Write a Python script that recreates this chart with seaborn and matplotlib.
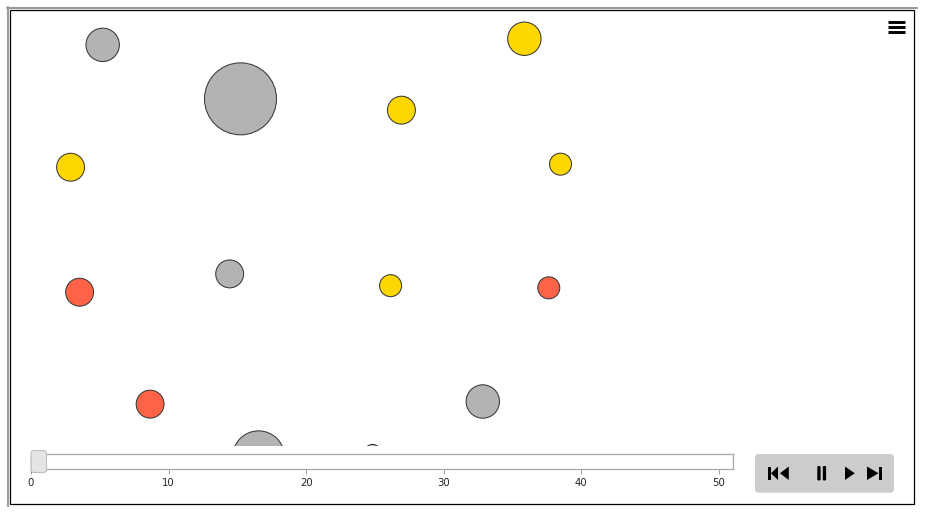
import numpy as np
import pandas as pd
import matplotlib.pyplot as plt
import matplotlib.patches as mpatches
import seaborn as sns

# bubble values (x, y on a 0-100 scale, value ~ bubble area)
bubble_x = [10.25, 25.5, 56.9, 43.3, 6.7, 60.9, 24.3, 7.7, 42.1, 59.6, 15.5, 52.3, 27.5, 40.1]
bubble_y = [92.0, 79.6, 93.4, 77.0, 63.9, 64.6, 39.4, 35.2, 36.7, 36.2, 9.5, 10.1, -2.6, -1.6]
bubble_value = [21.5, 100, 21.5, 15, 15, 9.3, 15, 15, 9.3, 9.3, 15, 21.5, 52, 5]
bubble_group = ["grey", "grey", "gold", "gold", "gold", "gold", "grey",
                "tomato", "gold", "tomato", "tomato", "grey", "grey", "grey"]
group_colors = {"grey": "#b3b3b3", "gold": "#ffd700", "tomato": "#ff6347"}

slider_ticks = [0, 10, 20, 30, 40, 50]
slider_max = 51.04
slider_pos = 0

W, H = 926, 517


def px_box(x0, y0, x1, y1):
    """pixel box (top-left origin) -> figure fraction rect"""
    return [x0 / W, 1 - y1 / H, (x1 - x0) / W, (y1 - y0) / H]


sns.set_style("white")
plt.rcParams['font.family'] = ['DejaVu Sans']

fig = plt.figure(figsize=(W / 100, H / 100), dpi=100)

# main bubble area (bubbles get cut off at its bottom edge)
ax = fig.add_axes(px_box(10, 10, 914, 445.5))
df = pd.DataFrame({"x": bubble_x, "y": bubble_y, "value": bubble_value, "group": bubble_group})
sns.scatterplot(data=df, x="x", y="y", hue="group", palette=group_colors,
                size="value", sizes=(0, 2687), size_norm=(0, 100),
                edgecolor="#383838", linewidth=0.75, alpha=1, legend=False, ax=ax)
ax.set_xlim(0, 100)
ax.set_ylim(0, 100)
ax.set_axis_off()

# time slider
ax_s = fig.add_axes(px_box(31, 454.3, 733.3, 469.3))
ax_s.set_xlim(0, slider_max)
ax_s.set_ylim(0, 1)
ax_s.set_facecolor("white")
for sp in ax_s.spines.values():
    sp.set_color("#a8a8a8")
    sp.set_linewidth(0.9)
ax_s.set_yticks([])
ax_s.set_xticks(slider_ticks)
ax_s.set_xticklabels([str(t) for t in slider_ticks])
ax_s.tick_params(axis="x", bottom=True, length=3.8, width=0.7, color="#a0a0a0",
                 labelsize=7.3, labelcolor="#222222", pad=2.5)

# overlay for frame, handle, play controls and menu icon
ov = fig.add_axes([0, 0, 1, 1], zorder=10)
ov.set_xlim(0, W)
ov.set_ylim(H, 0)
ov.set_axis_off()
ov.patch.set_alpha(0)

# outer frame
ov.plot([8, 8], [7, 506], color="#9a9a9a", lw=1.5)
ov.plot([7, 917], [8, 8], color="#9a9a9a", lw=1.5)
ov.add_patch(mpatches.Rectangle((9.5, 9.5), 904.5, 494.3, fill=False, ec="black", lw=0.9))

# slider handle
hx = 31 + slider_pos * (733.3 - 31) / slider_max
ov.add_patch(mpatches.FancyBboxPatch((hx, 450.5), 15.5, 22, boxstyle="round,pad=0,rounding_size=3",
                                     fc="#e4e4e4", ec="#bdbdbd", lw=0.8))

# play controls box
ov.add_patch(mpatches.FancyBboxPatch((755, 454), 139, 38.7, boxstyle="round,pad=0,rounding_size=4",
                                     fc="#cccccc", ec="none"))
yt, yb = 466.5, 480.0
ym = (yt + yb) / 2
icon = "black"
# skip to start
ov.add_patch(mpatches.Rectangle((768, yt), 3.2, yb - yt, fc=icon, ec="none"))
ov.add_patch(mpatches.Polygon([(771, ym), (778, yt), (778, yb)], fc=icon, ec="none"))
# back
ov.add_patch(mpatches.Polygon([(780, ym), (788.8, yt), (788.8, yb)], fc=icon, ec="none"))
# pause
ov.add_patch(mpatches.FancyBboxPatch((817.3, yt - 0.5), 3.3, yb - yt + 1, boxstyle="round,pad=0,rounding_size=1.2",
                                     fc=icon, ec="none"))
ov.add_patch(mpatches.FancyBboxPatch((822.8, yt - 0.5), 3.3, yb - yt + 1, boxstyle="round,pad=0,rounding_size=1.2",
                                     fc=icon, ec="none"))
# play
ov.add_patch(mpatches.Polygon([(845, yt), (845, yb), (854.8, ym)], fc=icon, ec="none"))
# skip to end
ov.add_patch(mpatches.Polygon([(867, yt), (867, yb), (878.5, ym)], fc=icon, ec="none"))
ov.add_patch(mpatches.Rectangle((878.6, yt), 3.2, yb - yt, fc=icon, ec="none"))

# hamburger menu
for yy in [22, 27, 32.3]:
    ov.plot([888, 905], [yy, yy], color="black", lw=2.1, solid_capstyle="butt")

fig.savefig("out.png", dpi=100)
